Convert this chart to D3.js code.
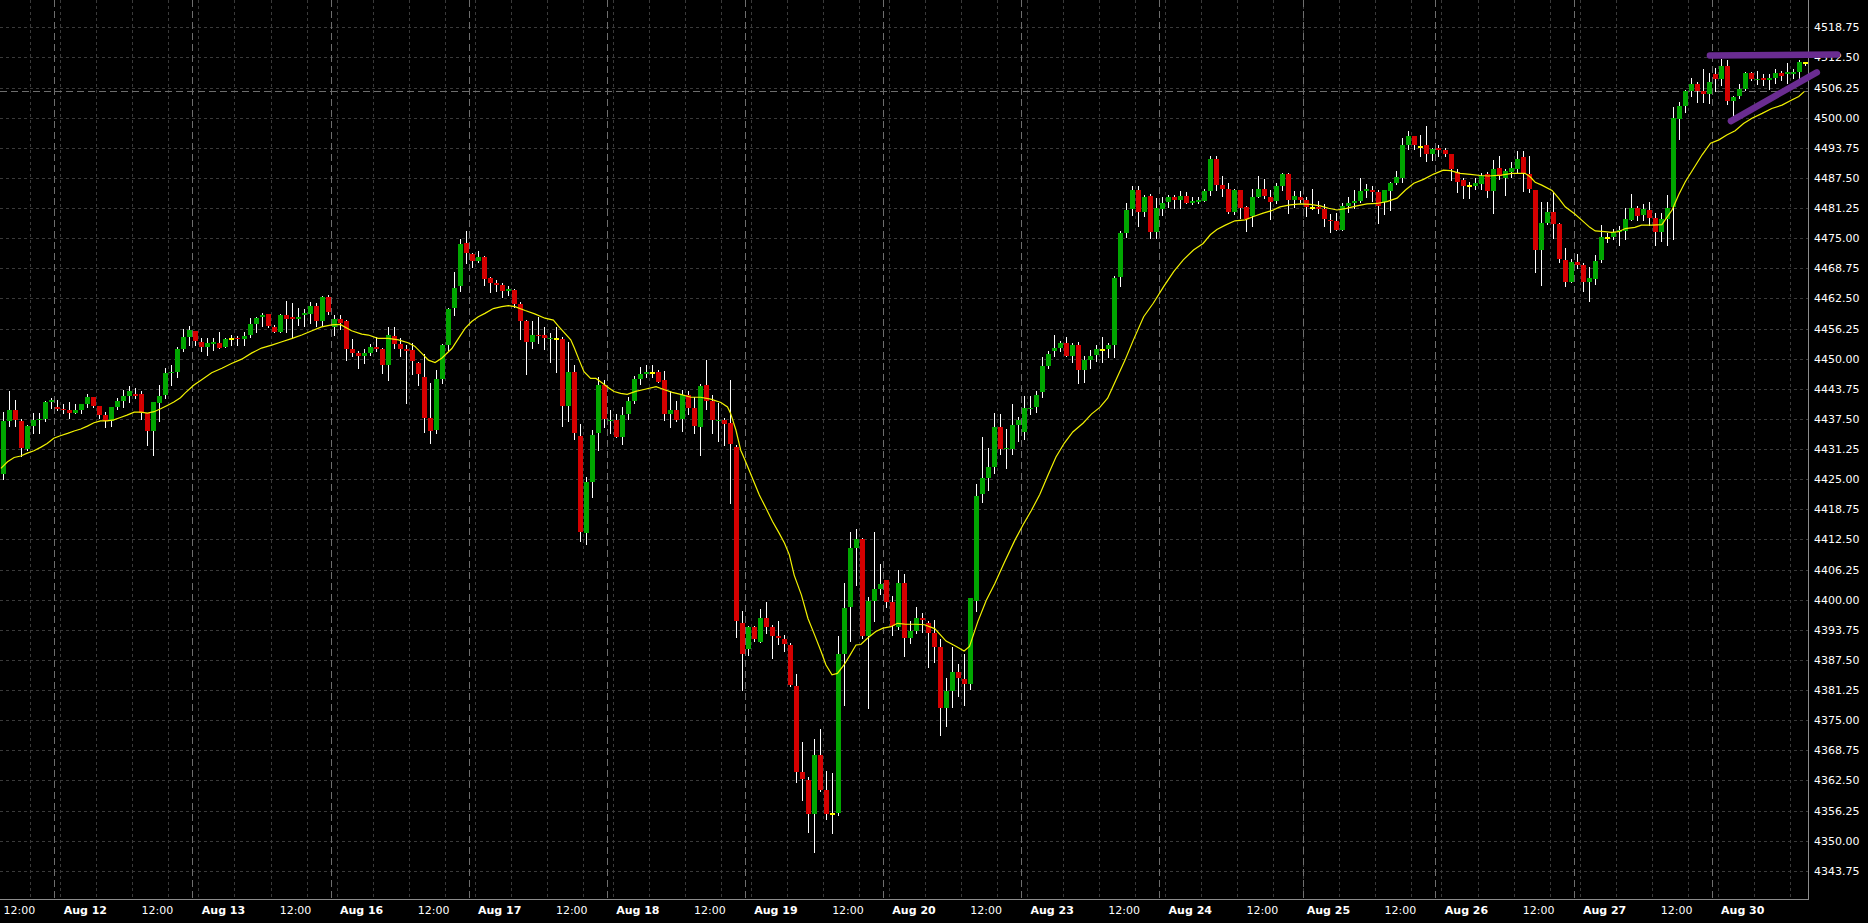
<!DOCTYPE html>
<html><head><meta charset="utf-8">
<script src="https://cdn.jsdelivr.net/npm/d3@7"></script>
<style>
html,body{margin:0;padding:0;background:#000;}
svg{display:block;}
</style></head><body>
<svg id="chart" width="1868" height="923"></svg>
<script>
// ---------------- DATA (hourly bars, index 0..300) ----------------
const openP = [
4426,4437,4439.25,4437,4431.25,4436,4437.25,4437.5,4441,4440,
4439.5,4439.25,4438.75,4439.25,4440.5,4442,4440.25,4438.25,4437,4440,
4441.25,4442.25,4442.75,4442.75,4438.75,4435,4440.75,4442.5,4447,4447.25,
4452,4454.5,4455.75,4453.5,4452.5,4453,4453.25,4452.5,4454,4454.25,
4454,4455,4457.25,4458.75,4459.25,4456.5,4455.5,4459,4458.75,4458.25,
4459,4459.25,4461,4457.75,4462.75,4456.5,4458.25,4457.75,4452,4451.25,
4450.5,4451.25,4452.5,4452,4448.75,4454.75,4453,4452,4451.75,4449,
4446.25,4437.75,4435.25,4445.75,4452.75,4460.5,4465,4474,4471.75,4470.25,
4471,4466.75,4465.75,4465.25,4464,4464.25,4461.25,4457.75,4453.5,4455,
4455,4454,4454,4454,4440.25,4447.25,4434,4413.75,4424.5,4434.5,
4444.5,4437,4437.25,4433.75,4438.5,4441.25,4445.75,4446.75,4447,4447.25,
4445.5,4438.5,4439.25,4437.5,4442.5,4439.75,4435.75,4444.5,4441.25,4437,
4437.25,4436.75,4431.75,4395.25,4389.75,4394.25,4391.25,4396.25,4394.25,4392.5,
4391.75,4390.5,4382,4364.25,4362.5,4355.5,4367.75,4360.5,4355.5,4355.75,
4388.75,4398.5,4410.75,4412.5,4392.5,4399.75,4402.25,4404,4399.5,4394.25,
4403.5,4392,4393.5,4396.25,4395.25,4393,4390.25,4377.5,4381,4385,
4383.5,4382.5,4399.75,4422,4425.25,4427.5,4435.75,4431.25,4431.25,4436.25,
4434.75,4439.5,4440,4443,4448.5,4451.5,4452.25,4453.25,4450.5,4452.75,
4447.75,4449.75,4450.75,4451.75,4452,4452.75,4467,4476,4481,4485,
4480.5,4483.75,4476.25,4481,4482.5,4483.5,4483,4483.75,4482.25,4482.5,
4482.75,4484.75,4491.5,4486,4485.25,4480.5,4485,4481.5,4479.5,4483.5,
4485.25,4483.5,4482.75,4485.75,4488.25,4483,4483.5,4483,4481.25,4481.5,
4481,4478.75,4478.5,4476.75,4481.75,4482.25,4482.75,4484.75,4485,4484.5,
4482.5,4484.75,4486.5,4487.5,4494.25,4496.25,4494,4494.25,4492.5,4493.75,
4493.25,4492.5,4488.75,4487,4485.75,4485.75,4486.25,4488.25,4484.75,4489.5,
4487.5,4488.75,4489.25,4491.75,4488.25,4485,4472.5,4478.25,4480.5,4478,
4470.5,4466,4470,4469.5,4466,4466.5,4470.5,4475,4475.25,4476.25,
4476.5,4478.75,4481.25,4479.75,4480.75,4479.25,4476.25,4479,4481.5,4499.75,
4502.5,4505.5,4507,4505.5,4505,4509,4508,4510.75,4503.5,4504.5,
4506,4509.25,4507.75,4508.25,4507.75,4508.25,4509.25,4509,4509,4509.5,
4511.25];
const highP = [
4439,4443.25,4441.5,4437.5,4436.25,4438.75,4438.75,4441.25,4441.75,4441.5,
4440.5,4441,4440.5,4440.5,4442.75,4442,4440.25,4439,4440,4441.75,
4443.5,4444.25,4444,4443.25,4438.75,4441,4444.5,4448,4448.75,4452.5,
4456.25,4456.75,4455.75,4454.25,4454.25,4454.25,4455.5,4454.25,4455,4454.75,
4455.5,4458.5,4458.75,4459.5,4459.25,4457,4459.25,4462,4461.5,4460.5,
4460.25,4461.75,4461.5,4463,4463.25,4459,4459,4458,4454,4451.5,
4452,4453,4454.5,4452.25,4456.5,4456.5,4454.25,4452.75,4453.25,4449.25,
4451,4445,4447.75,4453,4460.5,4468,4474.75,4476.5,4472,4472.25,
4471.25,4467,4466.25,4465.75,4465,4464.5,4461.75,4458,4457.75,4458.75,
4456.5,4455.25,4456.5,4454.5,4453.5,4448.75,4436.5,4425.5,4435.25,4446.25,
4445.5,4439.25,4438.5,4440,4442,4446.5,4448.25,4448.75,4448.75,4447.75,
4447.5,4443.25,4441.25,4443.5,4443.25,4442,4444.75,4449.75,4442.5,4440.75,
4437.75,4445.5,4432,4397.75,4394.5,4394.5,4398,4399.5,4394.75,4395.5,
4392.75,4391,4384.5,4370.5,4363.25,4371,4373.25,4364.5,4364,4392.5,
4403.5,4414,4414.75,4412.75,4400.5,4414,4407.5,4404,4400.75,4406.25,
4405.25,4395.5,4398.5,4397.25,4395.5,4395.75,4391.75,4383.75,4390.25,4386.75,
4388.75,4400.25,4424,4433.75,4431.5,4438.75,4438.5,4435.5,4440.5,4438,
4442.25,4442.25,4443.25,4450.25,4451.5,4455,4453.75,4454.5,4453.25,4453.5,
4450.5,4451.75,4452.75,4454.5,4453.25,4467.25,4476.5,4482.25,4485.75,4485.75,
4484,4484.25,4483.25,4483.5,4484,4484,4484.75,4484.5,4483.5,4483.5,
4485.25,4492,4492,4488,4486.5,4485.25,4485,4481.75,4485.25,4488,
4487.25,4485,4486.5,4488.5,4488.5,4484.75,4484.75,4483.5,4485.25,4482.75,
4482,4480,4480.25,4482.25,4483.5,4485,4487.5,4486.25,4485.75,4485,
4485,4486.75,4489,4495.75,4497.25,4496.25,4496.5,4498.25,4493.75,4494.25,
4493.75,4492.5,4489.25,4487.5,4486.75,4487.5,4488.5,4488.75,4491.25,4492,
4489.25,4490.75,4493,4493,4492,4485,4482.5,4482.5,4484.5,4478.25,
4473,4470.75,4471.75,4469.75,4469,4471.5,4477.75,4476,4477,4477.5,
4481.25,4484.25,4481.75,4482,4482.5,4480.25,4480.25,4484,4502.25,4503.25,
4505.75,4508.25,4507.5,4510,4509.25,4510.25,4512.25,4512,4504.5,4507,
4509.5,4509.5,4509.75,4509,4509,4510,4509.75,4511.25,4510,4512,
4511.5];
const lowP = [
4425,4436,4436,4429.75,4431,4434.5,4434.5,4437,4439.75,4439.25,
4438.75,4437.75,4438.75,4438.75,4440,4440,4437.75,4435.75,4436,4439.5,
4440,4441,4441.75,4437.5,4432,4430,4437,4441.75,4444.5,4446.25,
4451.5,4452.75,4452.75,4451.5,4450.75,4451.75,4452.25,4452.5,4452.75,4452.75,
4452.75,4454.5,4455.5,4456.75,4456.5,4455.5,4455.5,4455.5,4454.5,4457,
4456.75,4457.5,4456.75,4456.75,4459.25,4455,4456.25,4449.75,4450.5,4448,
4449,4450.75,4451.5,4447,4445.5,4452.25,4450.5,4440.75,4446.75,4444.5,
4434.75,4432.5,4434.5,4445,4451.75,4459,4464,4469.75,4469,4470,
4465.25,4463.75,4464,4462.75,4463.25,4460.75,4454,4446.75,4452.25,4453.25,
4452,4449.25,4447.25,4436,4437,4433.25,4412.25,4411.5,4421.25,4431,
4435.75,4434.5,4433.75,4432.25,4437.5,4440.75,4444.75,4446.25,4446.25,4445.25,
4437.25,4435.75,4437,4435,4438.5,4434.5,4430,4439.5,4434.5,4433,
4432,4420,4392.25,4381.25,4388.5,4391.5,4391.25,4393,4388,4390.75,
4389.25,4382,4362.25,4358.5,4351.75,4347.75,4360.25,4354.5,4351.5,4355.25,
4378.25,4391.5,4403,4392,4377.5,4395.5,4401.25,4398.5,4392.75,4394,
4388.25,4391,4393,4393.25,4386,4387,4372,4373.75,4377.75,4380,
4378.25,4381.5,4397.75,4420.25,4422.75,4426.25,4430.25,4427.25,4430.25,4433,
4433.25,4438.5,4439,4442,4448,4450.5,4451.5,4450.5,4449.25,4445,
4445.25,4448,4449.5,4449.25,4450.25,4450.25,4465,4475.25,4479.75,4477.5,
4479.5,4475,4475,4479.75,4481.5,4481.25,4481.25,4482.25,4482,4482.25,
4482.75,4484,4485,4483.75,4480.25,4480,4479.25,4476.5,4477.5,4483.5,
4483.25,4479,4482.25,4485,4480.25,4481.5,4482.5,4479.5,4481,4480.25,
4477.5,4476.25,4476.75,4476.75,4480.5,4481.25,4482.5,4483.5,4482.75,4478.25,
4480,4480.75,4486.25,4486.75,4493.5,4493.5,4492,4491,4491.25,4492,
4492,4487,4484.5,4483.25,4483.25,4485.25,4485.25,4483.5,4480.25,4487.25,
4484,4487.75,4488.5,4484.75,4484.5,4468,4465.25,4478,4475,4470,
4465,4466,4468.75,4464,4462,4465.5,4470,4474.25,4474.75,4473.5,
4474.75,4478.75,4478.75,4478.75,4477.75,4473.5,4474.5,4473.5,4474.75,4495.5,
4501.25,4504.5,4503.25,4503.25,4503,4505.5,4506.75,4502.75,4500.5,4504,
4505.75,4507.75,4507,4506.75,4506,4507.25,4507.75,4507.25,4508.25,4508.25,
4511];
const closeP = [
4437,4439.25,4437.25,4431.5,4436,4437.25,4437.5,4441,4441.5,4439.5,
4439.25,4438.75,4439.25,4440.5,4442,4440.25,4438.25,4437,4440,4441.25,
4442.25,4443.25,4442.25,4438.75,4435,4441,4442.25,4447,4447.25,4452,
4454.5,4456,4453.75,4452.5,4453.25,4453.5,4452.25,4454,4454,4454,
4454.75,4457.25,4458.5,4459,4456.75,4455.5,4459,4458.25,4458.25,4458.75,
4459.5,4461,4457.75,4462.75,4459.75,4458.25,4457.5,4452,4451.25,4450.5,
4451.25,4452.5,4452,4448.75,4455,4453,4452,4451.5,4449.5,4446.75,
4437.75,4435,4445.75,4452.75,4460.25,4464.75,4473.75,4472,4470.25,4471,
4466.5,4465.75,4465.25,4464,4464.5,4461.25,4457.75,4453.5,4455,4454.75,
4454.25,4454.25,4454,4440.25,4447.25,4434.5,4414,4424.5,4434.25,4444.5,
4437.5,4437.25,4433.75,4438.25,4441.25,4445.75,4446.75,4447.25,4447,4445.25,
4438.5,4439.25,4437.25,4442.5,4439.75,4436,4444.25,4441.25,4437.25,4437.25,
4436.5,4432.25,4395.5,4388.75,4394.25,4391.75,4396.25,4394.25,4392.5,4392,
4390.75,4382.25,4364.25,4362.75,4355.5,4367.75,4360.5,4355.5,4355.5,4388.75,
4398.25,4410.75,4412.5,4392.5,4399.75,4402.25,4403.25,4399.5,4394.5,4403.5,
4392,4393.5,4396.25,4395.75,4393,4390.25,4377.5,4381,4385,4383.75,
4382.5,4400.25,4421.5,4425.25,4427.5,4435.75,4431.25,4431.5,4436.25,4437.25,
4439.75,4439.75,4442.5,4448.5,4451,4452.25,4453.25,4450.5,4452.75,4447.75,
4449.75,4450.5,4452,4451.75,4452.75,4466.75,4476,4480.75,4485,4480.5,
4483.5,4476.25,4481.25,4482.25,4483.5,4483,4483.75,4482.25,4482.75,4483,
4484.75,4491.5,4486,4485.25,4480.5,4485,4481.25,4479,4483.5,4485.25,
4483.75,4482.5,4485.75,4488.25,4483,4483.75,4483,4481.5,4481.25,4481,
4479,4478.5,4476.75,4481.75,4482.25,4482.75,4484.75,4485.25,4484.5,4481.75,
4485,4486.5,4487.75,4494.25,4496.25,4494.25,4494,4492.5,4493.5,4493.25,
4492.5,4489.25,4486.75,4485.75,4485.75,4486.5,4488,4484.75,4489.25,4488,
4489,4489.5,4491.5,4488.5,4485.25,4472.5,4478.25,4480.5,4478,4470.75,
4466,4470,4469.5,4466,4466.75,4470.25,4475.25,4475,4476.25,4476.75,
4479,4481.25,4479.5,4481,4479.25,4476.25,4479,4481.25,4500,4502.5,
4505.5,4507,4505.5,4505,4507.5,4508,4510.75,4503.5,4504.25,4506,
4509.25,4508,4508,4507.75,4508.25,4509.25,4508.75,4509.5,4509.5,4511.5,
4511.25];

// moving average (yellow line): bar position / price
const maIndex = [-0.4,0.7,1.8,2.9,4.0,5.1,6.2,7.3,8.4,9.5,10.7,11.8,12.9,14.0,15.1,16.2,17.3,18.4,19.5,20.6,21.8,22.9,24.0,25.1,26.2,27.3,28.4,29.5,30.3,31.7,33.1,34.7,36.4,38.0,39.7,41.4,43.0,44.7,46.4,48.0,49.7,51.4,53.0,54.7,56.1,58.0,59.7,60.8,62.4,64.1,65.8,67.4,68.5,69.7,70.8,71.9,73.0,74.7,75.8,76.9,78.0,79.1,80.2,81.6,83.0,84.1,85.2,86.9,88.5,90.2,91.6,92.4,94.5,95.1,95.9,96.7,97.8,98.7,99.8,100.9,101.7,102.8,103.9,105.3,106.7,108.7,110.0,111.4,112.8,114.5,116.1,117.8,119.5,120.6,121.1,122.0,122.8,123.4,125.9,127.0,128.1,129.2,130.1,130.9,131.7,132.9,134.0,135.1,136.2,137.0,138.0,138.9,140.0,141.0,142.0,142.8,143.9,145.3,146.5,147.8,148.9,150.3,152.0,153.4,155.1,157.0,158.7,160.0,160.9,162.3,163.7,165.1,166.7,168.4,169.8,171.2,172.6,174.0,175.3,176.7,178.1,179.8,181.2,182.6,183.9,185.0,186.8,188.2,189.9,191.5,193.2,194.9,196.5,198.2,199.8,201.0,202.1,203.5,205.1,206.8,208.2,209.8,211.2,212.6,214.3,216.0,217.6,219.3,220.7,222.1,223.7,225.4,227.1,228.7,230.4,232.1,233.5,234.9,236.5,238.2,239.8,241.0,242.6,244.3,246.0,247.3,249.5,251.2,253.4,254.2,255.1,256.2,257.9,259.0,260.1,261.7,262.8,264.2,265.1,266.7,267.8,269.0,270.1,271.7,272.8,274.5,276.2,277.9,279.0,280.1,281.5,282.9,284.3,285.7,287.0,288.4,289.8,291.2,292.9,294.5,296.2,297.9,299.0,299.9];
const maValue = [4427.25,4428.6,4429.5,4429.8,4430.4,4430.9,4431.6,4432.4,4433.5,4434.0,4434.5,4435.0,4435.4,4436.0,4436.7,4437.1,4437.1,4437.3,4437.8,4438.3,4438.9,4438.9,4438.7,4439.0,4439.6,4440.3,4441.0,4441.9,4442.9,4444.5,4445.7,4447.1,4448.0,4449.0,4449.9,4451.2,4452.2,4452.8,4453.5,4454.15,4454.9,4455.8,4456.6,4457.0,4457.1,4455.8,4455.1,4454.9,4454.2,4454.2,4453.9,4453.3,4452.6,4451.1,4449.7,4449.2,4450.1,4452.1,4454.2,4456.3,4457.7,4458.7,4459.4,4460.4,4460.8,4461.0,4460.8,4460.0,4459.3,4458.4,4458.0,4456.8,4453.9,4452.2,4449.7,4447.3,4445.9,4445.9,4444.9,4443.85,4443.2,4442.8,4442.6,4443.2,4443.6,4444.2,4443.6,4443.0,4442.6,4442.0,4442.0,4441.6,4440.9,4440.0,4438.7,4435.2,4431.0,4429.3,4421.7,4419.0,4416.2,4413.8,4411.7,4409.3,4405.1,4401.0,4396.1,4392.7,4389.2,4386.45,4384.4,4384.7,4386.45,4388.5,4390.6,4390.7,4392.0,4393.4,4394.1,4394.4,4395.1,4394.9,4394.9,4394.8,4394.0,4391.4,4390.3,4389.35,4390.3,4395.5,4399.9,4403.3,4407.7,4412.2,4415.5,4418.5,4421.8,4425.9,4429.6,4432.5,4434.8,4436.6,4438.5,4439.9,4441.8,4444.8,4449.7,4453.9,4458.7,4461.5,4464.9,4468.05,4470.5,4472.55,4473.9,4475.7,4476.8,4477.7,4478.6,4478.8,4479.5,4480.2,4480.7,4481.5,4481.9,4482.1,4482.0,4481.7,4481.2,4480.85,4481.2,4481.7,4482.1,4482.2,4482.6,4483.3,4485.0,4486.4,4487.2,4488.3,4489.1,4489.0,4488.45,4488.25,4488.0,4487.9,4488.1,4488.45,4488.45,4487.8,4486.6,4486.0,4484.9,4483.3,4481.5,4480.0,4478.8,4477.25,4476.5,4476.35,4476.2,4476.35,4477.0,4477.25,4477.7,4477.7,4477.8,4480.85,4484.0,4486.7,4489.5,4492.3,4494.7,4495.4,4496.4,4497.3,4498.8,4499.9,4500.9,4501.9,4502.6,4503.7,4504.4,4505.4];

// trading days: label, first bar, bar of 00:00
const dayNames = ["Aug 11","Aug 12","Aug 13","Aug 16","Aug 17","Aug 18","Aug 19","Aug 20","Aug 23","Aug 24","Aug 25","Aug 26","Aug 27","Aug 30"];
const dayFirstBar = [-14,9,32,55,78,101,124,147,170,193,217,239,262,285];
const dayMidnightBar = [-13,10,33,56,79,102,125,148,171,194,217,240,263,286];
const noonText = "12:00";

// price axis labels
const priceTicks = [4518.75,4512.50,4506.25,4500.00,4493.75,4487.50,4481.25,4475.00,4468.75,4462.50,4456.25,4450.00,4443.75,4437.50,4431.25,4425.00,4418.75,4412.50,4406.25,4400.00,4393.75,4387.50,4381.25,4375.00,4368.75,4362.50,4356.25,4350.00,4343.75];

// dashed horizontal price line
const refPrice = 4505.6;

// hand-drawn purple trend lines (bar position, price)
const trendStartBar = [284.2, 287.7];
const trendStartPrice = [4512.9, 4499.3];
const trendEndBar = [305.4, 302.0];
const trendEndPrice = [4513.1, 4509.4];

// ---------------- DRAWING ----------------
const W = 1868, H = 923;
const plotRight = 1808, plotBottom = 899;
const x = d3.scaleLinear().domain([0, 300]).range([3.3, 1804.8]);
const y = d3.scaleLinear().domain([4343.75, 4518.75]).range([870.8, 27.3]);
const svg = d3.select('#chart');
svg.append('rect').attr('width', W).attr('height', H).attr('fill', '#000');

svg.append('defs').append('clipPath').attr('id', 'plotClip')
  .append('rect').attr('x', 0).attr('y', 0).attr('width', plotRight).attr('height', plotBottom);

const gridG = svg.append('g').attr('shape-rendering', 'crispEdges');
// horizontal grid
gridG.selectAll('line.hg').data(priceTicks).join('line').attr('class', 'hg')
  .attr('x1', 0).attr('x2', plotRight)
  .attr('y1', d => Math.round(y(d)) + 0.5).attr('y2', d => Math.round(y(d)) + 0.5)
  .attr('stroke', '#3a3a3a').attr('stroke-dasharray', '3,3');

// vertical grid every 6 hours
const vGrid = [];
dayMidnightBar.forEach(m => { for (let k = 0; k < 4; k++) vGrid.push(m - 0.5 + 6 * k); });
gridG.selectAll('line.vg').data(vGrid.filter(g => x(g) > 0 && x(g) < plotRight)).join('line').attr('class', 'vg')
  .attr('x1', d => Math.round(x(d)) + 0.5).attr('x2', d => Math.round(x(d)) + 0.5)
  .attr('y1', 0).attr('y2', plotBottom)
  .attr('stroke', '#3a3a3a').attr('stroke-dasharray', '3,3');

// day separators
gridG.selectAll('line.sep').data(dayFirstBar.slice(1)).join('line').attr('class', 'sep')
  .attr('x1', d => Math.round(x(d - 0.5)) + 0.5).attr('x2', d => Math.round(x(d - 0.5)) + 0.5)
  .attr('y1', 0).attr('y2', plotBottom)
  .attr('stroke', '#6e6e6e').attr('stroke-dasharray', '7,4');

// reference price line
gridG.append('line')
  .attr('x1', 0).attr('x2', plotRight)
  .attr('y1', Math.round(y(refPrice)) + 0.5).attr('y2', Math.round(y(refPrice)) + 0.5)
  .attr('stroke', '#6e6e6e').attr('stroke-dasharray', '7,4');

// candles
const bars = d3.range(openP.length).map(i => ({i, o: openP[i], h: highP[i], l: lowP[i], c: closeP[i]}));
const cg = svg.append('g').attr('clip-path', 'url(#plotClip)').attr('shape-rendering', 'crispEdges');
cg.selectAll('line.wick').data(bars).join('line').attr('class', 'wick')
  .attr('x1', d => Math.round(x(d.i)) + 0.5).attr('x2', d => Math.round(x(d.i)) + 0.5)
  .attr('y1', d => Math.round(y(d.h))).attr('y2', d => Math.round(y(d.l)) + 1)
  .attr('stroke', '#ffffff').attr('stroke-width', 1);
cg.selectAll('rect.body').data(bars).join('rect').attr('class', 'body')
  .attr('x', d => Math.round(x(d.i)) - 2)
  .attr('width', 5)
  .attr('y', d => {
    if (d.o === d.c) return Math.round(y(d.c)) - 1;
    return Math.round(y(Math.max(d.o, d.c)));
  })
  .attr('height', d => {
    if (d.o === d.c) return 2;
    return Math.max(1, Math.round(y(Math.min(d.o, d.c))) - Math.round(y(Math.max(d.o, d.c))));
  })
  .attr('fill', d => d.c > d.o ? '#00a600' : (d.c < d.o ? '#d40000' : '#ffff00'));

// moving average
const maPts = maIndex.map((v, k) => [v, maValue[k]]);
svg.append('path').attr('clip-path', 'url(#plotClip)')
  .datum(maPts)
  .attr('d', d3.line().x(d => x(d[0])).y(d => y(d[1])))
  .attr('fill', 'none').attr('stroke', '#f2f200').attr('stroke-width', 1.2);

// axes frame
const axG = svg.append('g').attr('shape-rendering', 'crispEdges');
axG.append('line').attr('x1', plotRight + 0.5).attr('x2', plotRight + 0.5).attr('y1', 0).attr('y2', plotBottom + 1)
  .attr('stroke', '#8c8c8c');
axG.append('line').attr('x1', 0).attr('x2', plotRight + 1).attr('y1', plotBottom + 0.5).attr('y2', plotBottom + 0.5)
  .attr('stroke', '#8c8c8c');

// price labels
svg.append('g').selectAll('text').data(priceTicks).join('text')
  .attr('x', plotRight + 6).attr('y', d => y(d) + 4)
  .attr('fill', '#ffffff').attr('font-family', 'DejaVu Sans, sans-serif').attr('font-size', 11)
  .text(d => d.toFixed(2));

// time labels
const labelShift = 25;
const tLabels = [];
dayMidnightBar.forEach((m, k) => {
  tLabels.push({t: dayNames[k], pos: m - 0.5, bold: true});
  tLabels.push({t: noonText, pos: m + 11.5, bold: false});
});
svg.append('g').selectAll('text').data(tLabels.filter(d => {
    const cx = x(d.pos) + labelShift;
    return cx - 16 > 0 && cx + 18 < plotRight;
  })).join('text')
  .attr('x', d => x(d.pos) + labelShift).attr('y', 914)
  .attr('text-anchor', 'middle')
  .attr('fill', '#ffffff').attr('font-family', 'DejaVu Sans, sans-serif').attr('font-size', 11)
  .attr('font-weight', d => d.bold ? 'bold' : 'normal')
  .text(d => d.t);

// trend lines
svg.append('g').selectAll('line').data(trendStartBar.map((b, k) => k)).join('line')
  .attr('x1', k => x(trendStartBar[k])).attr('y1', k => y(trendStartPrice[k]))
  .attr('x2', k => x(trendEndBar[k])).attr('y2', k => y(trendEndPrice[k]))
  .attr('stroke', '#6a2c91').attr('stroke-width', 6.5).attr('stroke-linecap', 'round');
</script>
</body></html>
